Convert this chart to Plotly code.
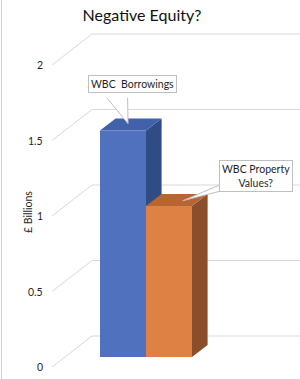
import plotly.graph_objects as go

# ---- data ----
categories = ["WBC Borrowings", "WBC Property Values?"]
series_labels = ["WBC  Borrowings", "WBC Property<br>Values?"]
values = [1.5, 1.0]
tick_values = [0, 0.5, 1, 1.5, 2]
tick_labels = ["0", "0.5", "1", "1.5", "2"]
title_text = "Negative Equity?"
axis_title = "£ Billions"

# ---- style / projection constants ----
front_colors = ["#4f71be", "#dd8244"]
top_colors = ["#4162ab", "#b8652f"]
side_colors = ["#2f4c85", "#8a4f2a"]
grid_color = "#d9d9d9"
FONT = "Lato"

DXF, DYF = 40 / 46, 31 / 151      # full floor depth projected (x units, value units)
X_FL = (52 - 123) / 46            # front-left corner of the floor
X_RIGHT = 4.2                     # gridlines run off the right edge
D1, DD = 0.323, 0.39              # bar front depth, bar depth fraction
b0 = D1 * DYF
bdx, bdy = DD * DXF, DD * DYF

fig = go.Figure()


def poly(xs, ys, color, line=None):
    fig.add_trace(go.Scatter(x=xs + [xs[0]], y=ys + [ys[0]], fill="toself", fillcolor=color,
                             mode="lines", line=line or dict(width=0, color=color),
                             hoverinfo="skip", showlegend=False))


# gridlines (side wall diagonal + back wall horizontal)
gx, gy = [], []
for v in tick_values:
    gx += [X_FL, X_FL + DXF, X_RIGHT, None]
    gy += [v, v + DYF, v + DYF, None]
fig.add_trace(go.Scatter(x=gx, y=gy, mode="lines", line=dict(color=grid_color, width=1),
                         hoverinfo="skip", showlegend=False))

# bars: side, top, front
for i, v in enumerate(values):
    xl, xr = i - 0.5, i + 0.5
    top = v + b0
    poly([xr, xr, xr + bdx, xr + bdx], [b0, top, top + bdy, b0 + bdy], side_colors[i])
    poly([xl, xr, xr + bdx, xl + bdx], [top, top, top + bdy, top + bdy], top_colors[i])
    poly([xl, xr, xr, xl], [b0, b0, top, top], front_colors[i])

# callouts
callouts = [
    dict(cx=0.217, cy=1.874, tipx=0.11, tipdy=0.045, base=[(-0.35, 1.782), (0.10, 1.782)]),
    dict(cx=2.90, cy=1.265, tipx=1.30, tipdy=0.035, base=[(2.25, 1.225), (2.25, 1.175)]),
]
for i, c in enumerate(callouts):
    tipy = values[i] + b0 + c["tipdy"]
    (x1, y1), (x2, y2) = c["base"]
    fig.add_trace(go.Scatter(x=[x1, c["tipx"], x2], y=[y1, tipy, y2], mode="lines",
                             fill="toself", fillcolor="white", line=dict(color="#bfbfbf", width=1),
                             hoverinfo="skip", showlegend=False))
    fig.add_annotation(x=c["cx"], y=c["cy"], text=series_labels[i], showarrow=False,
                       font=dict(family=FONT, size=10.5, color="#1f1f1f"),
                       bgcolor="white", bordercolor="#bfbfbf", borderwidth=1, borderpad=2)

# tick labels
for v, t in zip(tick_values, tick_labels):
    fig.add_annotation(x=X_FL, y=v, text=t, showarrow=False, xanchor="right", xshift=-7,
                       font=dict(family=FONT, size=10.5, color="#1f1f1f"))

# axis title
fig.add_annotation(xref="paper", yref="paper", x=20 / 300, y=1 - 212 / 379, text=axis_title,
                   textangle=-90, showarrow=False, font=dict(family=FONT, size=10.5, color="#1f1f1f"))

# left border line
fig.add_shape(type="line", xref="paper", yref="paper", x0=0.005, x1=0.005, y0=0, y1=1,
              line=dict(color="#d0d0d0", width=1))

fig.update_layout(
    width=300, height=379, margin=dict(l=0, r=0, t=0, b=0),
    paper_bgcolor="white", plot_bgcolor="white",
    title=dict(text=title_text, x=142 / 300, xanchor="center", y=1 - 15 / 379, yanchor="middle",
               font=dict(family=FONT, size=16, color="#111111")),
    xaxis=dict(range=[-123 / 46, 177 / 46], visible=False, fixedrange=True),
    yaxis=dict(range=[-12 / 151, 367 / 151], visible=False, fixedrange=True),
)

fig.write_html("out.html")
